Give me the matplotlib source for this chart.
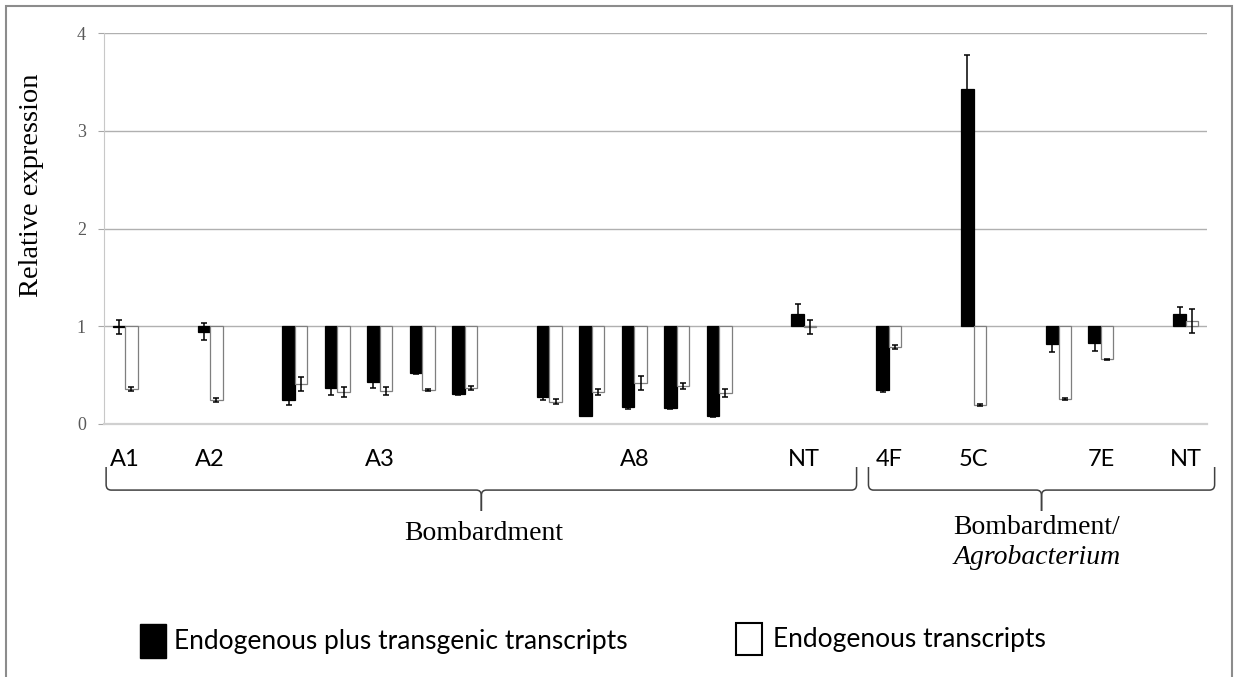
import numpy as np
import matplotlib.pyplot as plt
from matplotlib.path import Path
from matplotlib.patches import PathPatch, Rectangle
import matplotlib.transforms as mtransforms

nan = np.nan

# 26 slots, empty slots are spacers between the lines
labels = ['A1', '', 'A2', '', '', '', 'A3', '', '', '', '', '', 'A8', '', '', '',
          'NT', '', '4F', '', '5C', '', '', '7E', '', 'NT']
black = [0.99, nan, 0.945, nan, 0.245, 0.37, 0.43, 0.52, 0.31, nan, 0.28, 0.085, 0.17,
         0.16, 0.085, nan, 1.125, nan, 0.35, nan, 3.43, nan, 0.82, 0.825, nan, 1.125]
black_err = [0.07, nan, 0.09, nan, 0.05, 0.07, 0.06, 0.01, 0.01, nan, 0.03, 0.005, 0.02,
             0.01, 0.01, nan, 0.1, nan, 0.02, nan, 0.34, nan, 0.08, 0.08, nan, 0.075]
white = [0.36, nan, 0.245, nan, 0.41, 0.325, 0.335, 0.35, 0.365, nan, 0.23, 0.33, 0.42,
         0.39, 0.32, nan, 0.99, nan, 0.785, nan, 0.195, nan, 0.26, 0.66, nan, 1.055]
white_err = [0.02, nan, 0.02, nan, 0.07, 0.05, 0.04, 0.01, 0.02, nan, 0.03, 0.03, 0.07,
             0.03, 0.04, nan, 0.07, nan, 0.02, nan, 0.01, nan, 0.01, 0.01, nan, 0.12]

groups = [('Bombardment', -0.45, 17.24), ('Bombardment/', 17.52, 25.68)]

serif = 'Liberation Serif'
sans = 'Lato'

fig = plt.figure(figsize=(12.35, 6.77), dpi=100)
ax = fig.add_axes([104 / 1235, 1 - 424 / 677, 1103 / 1235, 391 / 677])

x = np.arange(len(labels))
w = 0.295
for vals, errs, off, fc, ec in [(black, black_err, -w / 2, 'black', 'black'),
                                (white, white_err, w / 2, 'white', '#7f7f7f')]:
    v = np.array(vals)
    e = np.array(errs)
    m = ~np.isnan(v)
    ax.bar(x[m] + off, v[m] - 1, bottom=1, width=w, color=fc, edgecolor=ec,
           linewidth=0.9, zorder=3)
    ax.errorbar(x[m] + off, v[m], yerr=e[m], fmt='none', ecolor='black',
                elinewidth=1.1, capsize=2.5, capthick=1.1, zorder=4)

ax.set_xlim(-0.5, len(labels) - 0.5)
ax.set_ylim(0, 4)
ax.set_yticks([0, 1, 2, 3, 4])
ax.yaxis.grid(True, color='#b0b0b0', linewidth=1)
ax.set_axisbelow(True)
for s in ['top', 'right']:
    ax.spines[s].set_visible(False)
ax.spines['left'].set_color('#c8c8c8')
ax.spines['bottom'].set_color('#d0d0d0')
ax.spines['bottom'].set_linewidth(1.6)
ax.tick_params(axis='y', length=4, color='#a6a6a6', pad=9, labelsize=13,
               labelcolor='#595959')
for t in ax.get_yticklabels():
    t.set_fontfamily(serif)

pos = [i for i, l in enumerate(labels) if l]
ax.set_xticks(pos, [labels[i] for i in pos])
ax.tick_params(axis='x', length=0, pad=18, labelsize=17)
for t in ax.get_xticklabels():
    t.set_fontfamily(sans)

fig.text(32 / 1235, 1 - 185 / 677, 'Relative expression', rotation=90,
         ha='center', va='center', fontsize=20.5, family=serif)

# curly braces below the axis
tr = mtransforms.blended_transform_factory(ax.transData, ax.transAxes)
y_top, y_mid, y_tip = -0.11, -0.169, -0.2225
r, d = 0.12, 0.014
for name, x0, x1 in groups:
    xm = (x0 + x1) / 2
    for a, b in [(x0, xm), (x1, xm)]:
        s = 1 if b > a else -1
        verts = [(a, y_top), (a, y_mid + d), (a, y_mid), (a + s * r, y_mid),
                 (b - s * r, y_mid), (b, y_mid), (b, y_mid - d), (b, y_tip)]
        codes = [Path.MOVETO, Path.LINETO, Path.CURVE3, Path.CURVE3,
                 Path.LINETO, Path.CURVE3, Path.CURVE3, Path.LINETO]
        ax.add_patch(PathPatch(Path(verts, codes), fill=False, edgecolor='#404040',
                               linewidth=1.1, transform=tr, clip_on=False))

fig.text(484 / 1235, 1 - 533 / 677, 'Bombardment', ha='center', va='center',
         fontsize=20, family=serif)
fig.text(1037 / 1235, 1 - 527 / 677, 'Bombardment/', ha='center', va='center',
         fontsize=20, family=serif)
fig.text(1037 / 1235, 1 - 558 / 677, 'Agrobacterium', ha='center', va='center',
         fontsize=20, family=serif, style='italic')

# legend
fig.add_artist(Rectangle((140 / 1235, 1 - 658 / 677), 26 / 1235, 34 / 677,
                         transform=fig.transFigure, facecolor='black', edgecolor='black'))
fig.text(174 / 1235, 1 - 642 / 677, 'Endogenous plus transgenic transcripts',
         ha='left', va='center', fontsize=19, family=sans)
fig.add_artist(Rectangle((736 / 1235, 1 - 655 / 677), 26 / 1235, 32 / 677,
                         transform=fig.transFigure, facecolor='white', edgecolor='black',
                         linewidth=1.5))
fig.text(773 / 1235, 1 - 640 / 677, 'Endogenous transcripts',
         ha='left', va='center', fontsize=19, family=sans)

# outer frame
fig.add_artist(Rectangle((6 / 1235, -0.05), 1226 / 1235, 1.05 - 6 / 677,
                         transform=fig.transFigure, fill=False, edgecolor='#8c8c8c',
                         linewidth=1.5))

fig.savefig('out.png', dpi=100)
